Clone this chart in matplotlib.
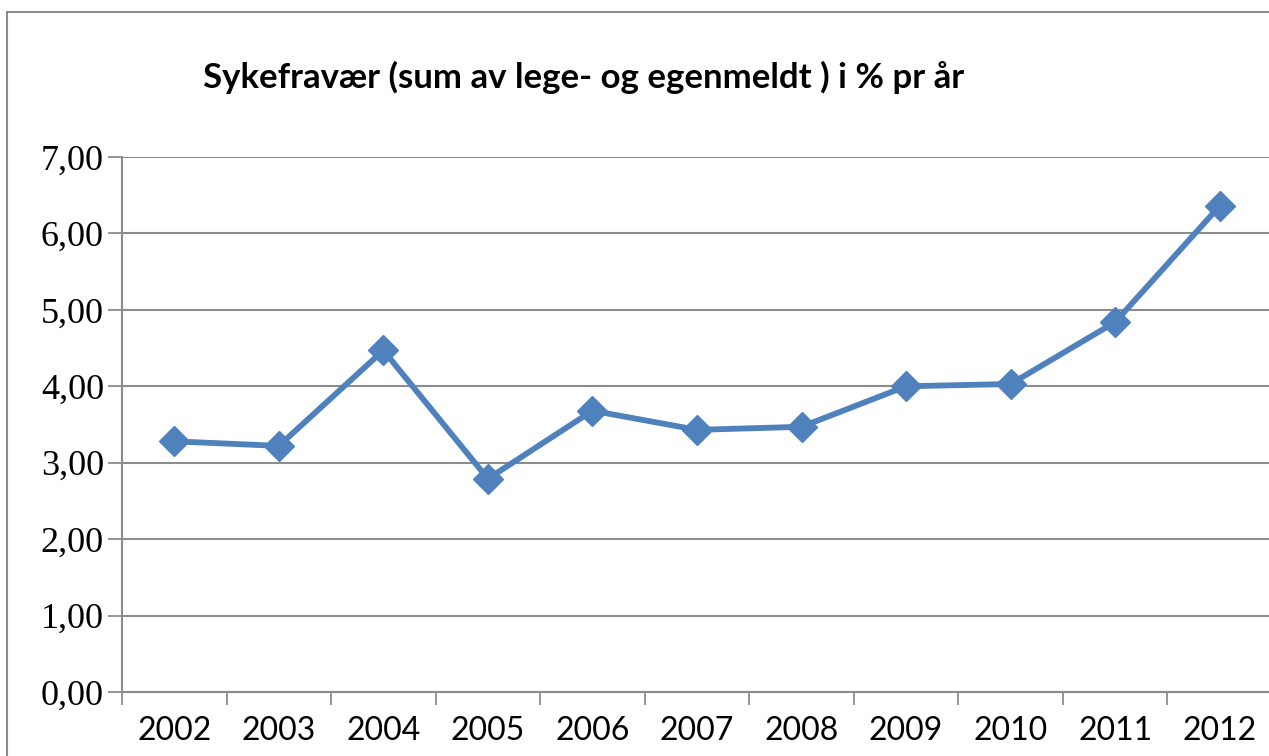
import matplotlib.pyplot as plt
from matplotlib.patches import Rectangle
from matplotlib.ticker import FixedLocator

years = ["2002", "2003", "2004", "2005", "2006", "2007", "2008", "2009", "2010", "2011", "2012"]
sick_leave = [3.28, 3.22, 4.47, 2.79, 3.68, 3.43, 3.47, 4.00, 4.03, 4.84, 6.36]
y_ticks = [0, 1, 2, 3, 4, 5, 6, 7]
y_labels = ["0,00", "1,00", "2,00", "3,00", "4,00", "5,00", "6,00", "7,00"]
title = "Sykefravær (sum av lege- og egenmeldt ) i % pr år"

W, H = 1269, 756
fig = plt.figure(figsize=(W / 100, H / 100), dpi=100)

# outer chart frame, cut off at right and bottom like the screenshot
fig.patches.append(Rectangle((7 / W, -0.1), 1.2, 1 - 12 / H + 0.1, transform=fig.transFigure,
                             fill=False, edgecolor="#8c8c8c", linewidth=1.5))

ax = fig.add_axes([122 / W, 64 / H, 1150 / W, 535 / H])
x = list(range(len(years)))
ax.plot(x, sick_leave, color="#4f81bd", linewidth=4.2, marker="D", markersize=15,
        clip_on=False, zorder=3)

ax.set_xlim(-0.5, len(years) - 0.5)
ax.set_ylim(0, 7)
ax.set_yticks(y_ticks)
ax.set_yticklabels(y_labels, family="Liberation Serif", fontsize=26)
ax.yaxis.grid(True, color="#8c8c8c", linewidth=1.5)
ax.set_axisbelow(True)

ax.set_xticks(x)
ax.set_xticklabels(years, family="Lato", fontsize=23)
ax.xaxis.set_minor_locator(FixedLocator([i - 0.5 for i in range(len(years) + 1)]))
ax.tick_params(axis="x", which="major", length=0, pad=17)
ax.tick_params(axis="x", which="minor", length=9, width=1.3, color="#8c8c8c", direction="out")
ax.tick_params(axis="y", length=10, width=1.3, color="#8c8c8c", pad=3)

for side in ["top", "right"]:
    ax.spines[side].set_visible(False)
ax.spines["left"].set_color("#8c8c8c")
ax.spines["left"].set_linewidth(1.5)
ax.spines["bottom"].set_color("#8c8c8c")
ax.spines["bottom"].set_linewidth(1.5)

fig.text(203 / W, 1 - 77 / H, title, ha="left", va="center", family="Lato",
         fontweight="bold", fontsize=25)

fig.savefig("out.png", dpi=100)
